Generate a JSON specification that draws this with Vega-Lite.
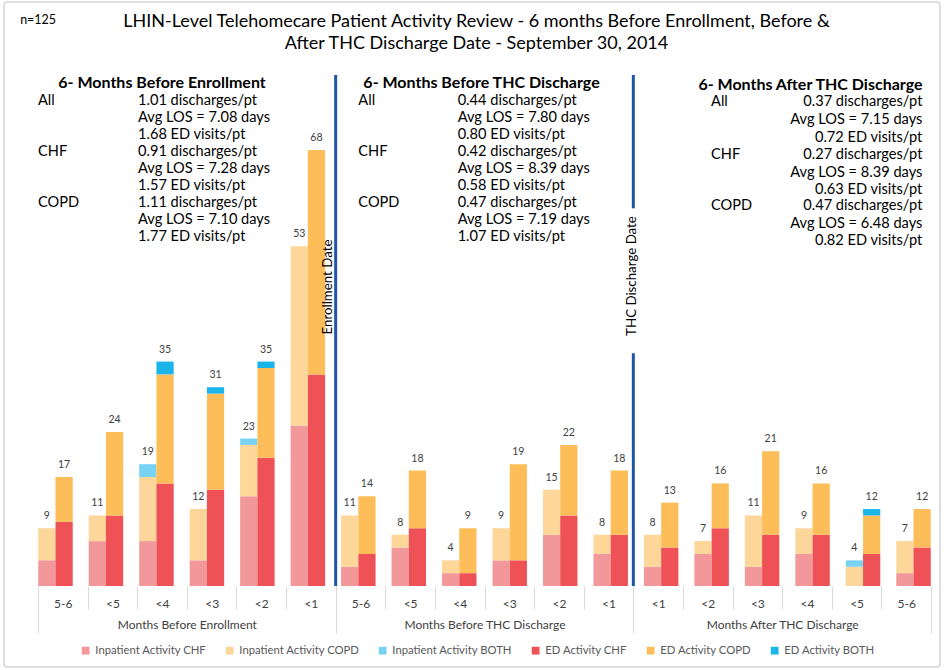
{
  "$schema": "https://vega.github.io/schema/vega-lite/v6.json",
  "width": 893,
  "height": 513,
  "autosize": {"type": "none"},
  "padding": {"left": 38, "top": 73, "right": 14, "bottom": 84},
  "background": "white",
  "config": {"view": {"stroke": null}, "font": "Lato"},
  "title": {
    "text": ["LHIN-Level Telehomecare Patient Activity Review - 6 months Before Enrollment, Before &", "After THC Discharge Date - September 30, 2014"],
    "font": "Lato", "fontSize": 18, "fontWeight": "normal", "color": "#000000",
    "lineHeight": 22, "frame": "group", "anchor": "middle", "offset": -52, "dx": -8
  },
  "datasets": {
    "bars": [
      {"k":"E1","t":"Inpatient","s":"Inpatient Activity CHF","o":1,"v":4},
      {"k":"E1","t":"Inpatient","s":"Inpatient Activity COPD","o":2,"v":5},
      {"k":"E1","t":"ED","s":"ED Activity CHF","o":1,"v":10},
      {"k":"E1","t":"ED","s":"ED Activity COPD","o":2,"v":7},
      {"k":"E2","t":"Inpatient","s":"Inpatient Activity CHF","o":1,"v":7},
      {"k":"E2","t":"Inpatient","s":"Inpatient Activity COPD","o":2,"v":4},
      {"k":"E2","t":"ED","s":"ED Activity CHF","o":1,"v":11},
      {"k":"E2","t":"ED","s":"ED Activity COPD","o":2,"v":13},
      {"k":"E3","t":"Inpatient","s":"Inpatient Activity CHF","o":1,"v":7},
      {"k":"E3","t":"Inpatient","s":"Inpatient Activity COPD","o":2,"v":10},
      {"k":"E3","t":"Inpatient","s":"Inpatient Activity BOTH","o":3,"v":2},
      {"k":"E3","t":"ED","s":"ED Activity CHF","o":1,"v":16},
      {"k":"E3","t":"ED","s":"ED Activity COPD","o":2,"v":17},
      {"k":"E3","t":"ED","s":"ED Activity BOTH","o":3,"v":2},
      {"k":"E4","t":"Inpatient","s":"Inpatient Activity CHF","o":1,"v":4},
      {"k":"E4","t":"Inpatient","s":"Inpatient Activity COPD","o":2,"v":8},
      {"k":"E4","t":"ED","s":"ED Activity CHF","o":1,"v":15},
      {"k":"E4","t":"ED","s":"ED Activity COPD","o":2,"v":15},
      {"k":"E4","t":"ED","s":"ED Activity BOTH","o":3,"v":1},
      {"k":"E5","t":"Inpatient","s":"Inpatient Activity CHF","o":1,"v":14},
      {"k":"E5","t":"Inpatient","s":"Inpatient Activity COPD","o":2,"v":8},
      {"k":"E5","t":"Inpatient","s":"Inpatient Activity BOTH","o":3,"v":1},
      {"k":"E5","t":"ED","s":"ED Activity CHF","o":1,"v":20},
      {"k":"E5","t":"ED","s":"ED Activity COPD","o":2,"v":14},
      {"k":"E5","t":"ED","s":"ED Activity BOTH","o":3,"v":1},
      {"k":"E6","t":"Inpatient","s":"Inpatient Activity CHF","o":1,"v":25},
      {"k":"E6","t":"Inpatient","s":"Inpatient Activity COPD","o":2,"v":28},
      {"k":"E6","t":"ED","s":"ED Activity CHF","o":1,"v":33},
      {"k":"E6","t":"ED","s":"ED Activity COPD","o":2,"v":35},
      {"k":"B1","t":"Inpatient","s":"Inpatient Activity CHF","o":1,"v":3},
      {"k":"B1","t":"Inpatient","s":"Inpatient Activity COPD","o":2,"v":8},
      {"k":"B1","t":"ED","s":"ED Activity CHF","o":1,"v":5},
      {"k":"B1","t":"ED","s":"ED Activity COPD","o":2,"v":9},
      {"k":"B2","t":"Inpatient","s":"Inpatient Activity CHF","o":1,"v":6},
      {"k":"B2","t":"Inpatient","s":"Inpatient Activity COPD","o":2,"v":2},
      {"k":"B2","t":"ED","s":"ED Activity CHF","o":1,"v":9},
      {"k":"B2","t":"ED","s":"ED Activity COPD","o":2,"v":9},
      {"k":"B3","t":"Inpatient","s":"Inpatient Activity CHF","o":1,"v":2},
      {"k":"B3","t":"Inpatient","s":"Inpatient Activity COPD","o":2,"v":2},
      {"k":"B3","t":"ED","s":"ED Activity CHF","o":1,"v":2},
      {"k":"B3","t":"ED","s":"ED Activity COPD","o":2,"v":7},
      {"k":"B4","t":"Inpatient","s":"Inpatient Activity CHF","o":1,"v":4},
      {"k":"B4","t":"Inpatient","s":"Inpatient Activity COPD","o":2,"v":5},
      {"k":"B4","t":"ED","s":"ED Activity CHF","o":1,"v":4},
      {"k":"B4","t":"ED","s":"ED Activity COPD","o":2,"v":15},
      {"k":"B5","t":"Inpatient","s":"Inpatient Activity CHF","o":1,"v":8},
      {"k":"B5","t":"Inpatient","s":"Inpatient Activity COPD","o":2,"v":7},
      {"k":"B5","t":"ED","s":"ED Activity CHF","o":1,"v":11},
      {"k":"B5","t":"ED","s":"ED Activity COPD","o":2,"v":11},
      {"k":"B6","t":"Inpatient","s":"Inpatient Activity CHF","o":1,"v":5},
      {"k":"B6","t":"Inpatient","s":"Inpatient Activity COPD","o":2,"v":3},
      {"k":"B6","t":"ED","s":"ED Activity CHF","o":1,"v":8},
      {"k":"B6","t":"ED","s":"ED Activity COPD","o":2,"v":10},
      {"k":"A1","t":"Inpatient","s":"Inpatient Activity CHF","o":1,"v":3},
      {"k":"A1","t":"Inpatient","s":"Inpatient Activity COPD","o":2,"v":5},
      {"k":"A1","t":"ED","s":"ED Activity CHF","o":1,"v":6},
      {"k":"A1","t":"ED","s":"ED Activity COPD","o":2,"v":7},
      {"k":"A2","t":"Inpatient","s":"Inpatient Activity CHF","o":1,"v":5},
      {"k":"A2","t":"Inpatient","s":"Inpatient Activity COPD","o":2,"v":2},
      {"k":"A2","t":"ED","s":"ED Activity CHF","o":1,"v":9},
      {"k":"A2","t":"ED","s":"ED Activity COPD","o":2,"v":7},
      {"k":"A3","t":"Inpatient","s":"Inpatient Activity CHF","o":1,"v":3},
      {"k":"A3","t":"Inpatient","s":"Inpatient Activity COPD","o":2,"v":8},
      {"k":"A3","t":"ED","s":"ED Activity CHF","o":1,"v":8},
      {"k":"A3","t":"ED","s":"ED Activity COPD","o":2,"v":13},
      {"k":"A4","t":"Inpatient","s":"Inpatient Activity CHF","o":1,"v":5},
      {"k":"A4","t":"Inpatient","s":"Inpatient Activity COPD","o":2,"v":4},
      {"k":"A4","t":"ED","s":"ED Activity CHF","o":1,"v":8},
      {"k":"A4","t":"ED","s":"ED Activity COPD","o":2,"v":8},
      {"k":"A5","t":"Inpatient","s":"Inpatient Activity COPD","o":2,"v":3},
      {"k":"A5","t":"Inpatient","s":"Inpatient Activity BOTH","o":3,"v":1},
      {"k":"A5","t":"ED","s":"ED Activity CHF","o":1,"v":5},
      {"k":"A5","t":"ED","s":"ED Activity COPD","o":2,"v":6},
      {"k":"A5","t":"ED","s":"ED Activity BOTH","o":3,"v":1},
      {"k":"A6","t":"Inpatient","s":"Inpatient Activity CHF","o":1,"v":2},
      {"k":"A6","t":"Inpatient","s":"Inpatient Activity COPD","o":2,"v":5},
      {"k":"A6","t":"ED","s":"ED Activity CHF","o":1,"v":6},
      {"k":"A6","t":"ED","s":"ED Activity COPD","o":2,"v":6}
    ]
  },
  "layer": [
    {
      "data": {"name": "bars"},
      "layer": [
        {
          "mark": {"type": "bar"},
          "encoding": {
            "x": {"field": "k", "type": "nominal", "axis": null,
              "scale": {"type": "band", "domain": ["E1","E2","E3","E4","E5","E6","B1","B2","B3","B4","B5","B6","A1","A2","A3","A4","A5","A6"], "paddingInner": 0.317, "paddingOuter": 0.005}},
            "xOffset": {"field": "t", "type": "nominal", "scale": {"domain": ["Inpatient", "ED"], "paddingInner": 0, "paddingOuter": 0}},
            "y": {"field": "v", "type": "quantitative", "stack": "zero",
              "scale": {"domain": [0, 80], "nice": false},
              "axis": {"values": [0,10,20,30,40,50,60,70,80], "grid": true, "gridColor": "#d9d9d9", "domain": false, "ticks": false, "labelPadding": 11, "labelFontSize": 12, "labelColor": "#404040", "labelFont": "Lato", "title": null}},
            "color": {"field": "s", "type": "nominal",
              "scale": {"domain": ["Inpatient Activity CHF", "Inpatient Activity COPD", "Inpatient Activity BOTH", "ED Activity CHF", "ED Activity COPD", "ED Activity BOTH"],
                        "range": ["#f2989b", "#fdd699", "#78d3f2", "#ee5257", "#fdbd58", "#1cb5ea"]},
              "legend": {"orient": "none", "legendX": 42, "legendY": 572, "direction": "horizontal", "title": null, "symbolType": "square", "symbolSize": 60, "symbolStrokeWidth": 0, "labelFont": "Lato", "labelFontSize": 11.3, "labelColor": "#595959", "columnPadding": 17}},
            "order": {"field": "o", "type": "quantitative"}
          }
        },
        {
          "transform": [{"aggregate": [{"op": "sum", "field": "v", "as": "total"}], "groupby": ["k", "t"]}],
          "mark": {"type": "text", "dy": -12, "fontSize": 10.5, "color": "#404040", "font": "Lato"},
          "encoding": {
            "x": {"field": "k", "type": "nominal", "axis": null,
              "scale": {"type": "band", "domain": ["E1","E2","E3","E4","E5","E6","B1","B2","B3","B4","B5","B6","A1","A2","A3","A4","A5","A6"], "paddingInner": 0.317, "paddingOuter": 0.005}},
            "xOffset": {"field": "t", "type": "nominal", "scale": {"domain": ["Inpatient", "ED"], "paddingInner": 0, "paddingOuter": 0}},
            "y": {"field": "total", "type": "quantitative", "scale": {"domain": [0, 80], "nice": false}, "axis": null},
            "text": {"field": "total", "type": "quantitative"}
          }
        }
      ]
    },
    {
      "resolve": {"axis": {"x": "independent"}},
      "layer": [
        {
          "data": {"values": [{"u": -0.685, "u2": 18.18, "y": -12.63, "y2": 91.07}]},
          "mark": {"type": "rect", "filled": false, "stroke": "#d4d4d4", "strokeWidth": 1.5, "cornerRadius": 3},
          "encoding": {
            "x": {"field": "u", "type": "quantitative", "scale": {"domain": [0, 18], "nice": false, "zero": false}, "axis": null},
            "x2": {"field": "u2"},
            "y": {"field": "y", "type": "quantitative", "scale": {"domain": [0, 80], "nice": false}, "axis": null},
            "y2": {"field": "y2"}
          }
        },
        {
          "data": {"values": [{"u": 6, "y": 0, "y2": 79.7}, {"u": 12, "y": 0, "y2": 36.3}, {"u": 12, "y": 58.9, "y2": 79.7}]},
          "mark": {"type": "rule", "color": "#1f56a3", "strokeWidth": 3},
          "encoding": {
            "x": {"field": "u", "type": "quantitative", "scale": {"domain": [0, 18], "nice": false, "zero": false},
              "axis": {"orient": "bottom", "title": null, "domain": false, "grid": false,
                "values": [0,0.5,1,1.5,2,2.5,3,3.5,4,4.5,5,5.5,6,6.5,7,7.5,8,8.5,9,9.5,10,10.5,11,11.5,12,12.5,13,13.5,14,14.5,15,15.5,16,16.5,17,17.5,18],
                "tickSize": 23, "tickColor": "#d9d9d9",
                "tickOpacity": {"condition": {"test": "datum.value % 1 != 0", "value": 0}, "value": 1},
                "labelExpr": "datum.value % 1 == 0.5 ? ['5-6','<5','<4','<3','<2','<1','5-6','<5','<4','<3','<2','<1','<1','<2','<3','<4','<5','5-6'][floor(datum.value)] : ''",
                "labelPadding": -6, "labelBaseline": "middle", "labelFont": "Lato", "labelFontSize": 12, "labelColor": "#404040",
                "labelOverlap": false, "labelFlush": false, "labelBound": false}},
            "y": {"field": "y", "type": "quantitative", "scale": {"domain": [0, 80], "nice": false}, "axis": null},
            "y2": {"field": "y2"}
          }
        },
        {
          "data": {"values": [{"text": "Enrollment Date", "u": 5.84, "v": 46.63}, {"text": "THC Discharge Date", "u": 11.97, "v": 48.34}]},
          "mark": {"type": "text", "angle": 270, "fontSize": 13.3, "color": "#000000", "align": "center", "baseline": "middle", "font": "Lato"},
          "encoding": {
            "x": {"field": "u", "type": "quantitative", "scale": {"domain": [0, 18], "nice": false, "zero": false},
              "axis": {"orient": "bottom", "title": null, "domain": false, "grid": false,
                "values": [0, 3, 6, 9, 12, 15, 18],
                "tickSize": 47, "tickColor": "#d9d9d9",
                "tickOpacity": {"condition": {"test": "datum.value % 6 != 0", "value": 0}, "value": 1},
                "labelExpr": "datum.value == 3 ? 'Months Before Enrollment' : datum.value == 9 ? 'Months Before THC Discharge' : datum.value == 15 ? 'Months After THC Discharge' : ''",
                "labelPadding": -9, "labelBaseline": "middle", "labelFont": "Lato", "labelFontSize": 12, "labelColor": "#404040",
                "labelOverlap": false, "labelFlush": false, "labelBound": false}},
            "y": {"field": "v", "type": "quantitative", "scale": {"domain": [0, 80], "nice": false}, "axis": null},
            "text": {"field": "text"}
          }
        },
        {
          "data": {"values": [{"text": "6- Months Before Enrollment", "u": 2.5, "v": 78.44}, {"text": "6- Months Before THC Discharge", "u": 8.94, "v": 78.4}]},
          "mark": {"type": "text", "fontSize": 16, "fontWeight": "bold", "color": "#000000", "align": "center", "baseline": "middle", "font": "Lato"},
          "encoding": {
            "x": {"field": "u", "type": "quantitative", "scale": {"domain": [0, 18], "nice": false, "zero": false}, "axis": null},
            "y": {"field": "v", "type": "quantitative", "scale": {"domain": [0, 80], "nice": false}, "axis": null},
            "text": {"field": "text"}
          }
        },
        {
          "data": {"values": [{"text": "6- Months After THC Discharge", "u": 17.83, "v": 78.13}]},
          "mark": {"type": "text", "fontSize": 16, "fontWeight": "bold", "color": "#000000", "align": "right", "baseline": "middle", "font": "Lato"},
          "encoding": {
            "x": {"field": "u", "type": "quantitative", "scale": {"domain": [0, 18], "nice": false, "zero": false}, "axis": null},
            "y": {"field": "v", "type": "quantitative", "scale": {"domain": [0, 80], "nice": false}, "axis": null},
            "text": {"field": "text"}
          }
        },
        {
          "data": {"values": [
            {"text": "All", "u": 0.0, "v": 75.63}, {"text": "CHF", "u": 0.0, "v": 67.68}, {"text": "COPD", "u": 0.0, "v": 59.73},
            {"text": "All", "u": 6.457, "v": 75.63}, {"text": "CHF", "u": 6.457, "v": 67.68}, {"text": "COPD", "u": 6.457, "v": 59.73},
            {"text": "All", "u": 13.566, "v": 75.52}, {"text": "CHF", "u": 13.566, "v": 67.21}, {"text": "COPD", "u": 13.566, "v": 59.31}
          ]},
          "mark": {"type": "text", "fontSize": 14.6, "color": "#000000", "align": "left", "baseline": "middle", "font": "Lato"},
          "encoding": {
            "x": {"field": "u", "type": "quantitative", "scale": {"domain": [0, 18], "nice": false, "zero": false}, "axis": null},
            "y": {"field": "v", "type": "quantitative", "scale": {"domain": [0, 80], "nice": false}, "axis": null},
            "text": {"field": "text"}
          }
        },
        {
          "data": {"values": [
            {"text": "1.01 discharges/pt", "u": 2.016, "v": 75.63},
            {"text": "Avg LOS = 7.08 days", "u": 2.016, "v": 72.98},
            {"text": "1.68 ED visits/pt", "u": 2.016, "v": 70.33},
            {"text": "0.91 discharges/pt", "u": 2.016, "v": 67.68},
            {"text": "Avg LOS = 7.28 days", "u": 2.016, "v": 65.03},
            {"text": "1.57 ED visits/pt", "u": 2.016, "v": 62.38},
            {"text": "1.11 discharges/pt", "u": 2.016, "v": 59.73},
            {"text": "Avg LOS = 7.10 days", "u": 2.016, "v": 57.08},
            {"text": "1.77 ED visits/pt", "u": 2.016, "v": 54.43},
            {"text": "0.44 discharges/pt", "u": 8.459, "v": 75.63},
            {"text": "Avg LOS = 7.80 days", "u": 8.459, "v": 72.98},
            {"text": "0.80 ED visits/pt", "u": 8.459, "v": 70.33},
            {"text": "0.42 discharges/pt", "u": 8.459, "v": 67.68},
            {"text": "Avg LOS = 8.39 days", "u": 8.459, "v": 65.03},
            {"text": "0.58 ED visits/pt", "u": 8.459, "v": 62.38},
            {"text": "0.47 discharges/pt", "u": 8.459, "v": 59.73},
            {"text": "Avg LOS = 7.19 days", "u": 8.459, "v": 57.08},
            {"text": "1.07 ED visits/pt", "u": 8.459, "v": 54.43}
          ]},
          "mark": {"type": "text", "fontSize": 14.6, "color": "#000000", "align": "left", "baseline": "middle", "font": "Lato"},
          "encoding": {
            "x": {"field": "u", "type": "quantitative", "scale": {"domain": [0, 18], "nice": false, "zero": false}, "axis": null},
            "y": {"field": "v", "type": "quantitative", "scale": {"domain": [0, 80], "nice": false}, "axis": null},
            "text": {"field": "text"}
          }
        },
        {
          "data": {"values": [
            {"text": "0.37 discharges/pt", "u": 17.826, "v": 75.52},
            {"text": "Avg LOS = 7.15 days", "u": 17.826, "v": 72.67},
            {"text": "0.72 ED visits/pt", "u": 17.826, "v": 69.91},
            {"text": "0.27 discharges/pt", "u": 17.826, "v": 67.21},
            {"text": "Avg LOS = 8.39 days", "u": 17.826, "v": 64.36},
            {"text": "0.63 ED visits/pt", "u": 17.826, "v": 61.75},
            {"text": "0.47 discharges/pt", "u": 17.826, "v": 59.31},
            {"text": "Avg LOS = 6.48 days", "u": 17.826, "v": 56.41},
            {"text": "0.82 ED visits/pt", "u": 17.826, "v": 53.8}
          ]},
          "mark": {"type": "text", "fontSize": 14.6, "color": "#000000", "align": "right", "baseline": "middle", "font": "Lato"},
          "encoding": {
            "x": {"field": "u", "type": "quantitative", "scale": {"domain": [0, 18], "nice": false, "zero": false}, "axis": null},
            "y": {"field": "v", "type": "quantitative", "scale": {"domain": [0, 80], "nice": false}, "axis": null},
            "text": {"field": "text"}
          }
        },
        {
          "data": {"values": [{"text": "n=125", "u": -0.36, "v": 88.3}]},
          "mark": {"type": "text", "fontSize": 12.5, "color": "#000000", "align": "left", "baseline": "middle", "font": "Lato"},
          "encoding": {
            "x": {"field": "u", "type": "quantitative", "scale": {"domain": [0, 18], "nice": false, "zero": false}, "axis": null},
            "y": {"field": "v", "type": "quantitative", "scale": {"domain": [0, 80], "nice": false}, "axis": null},
            "text": {"field": "text"}
          }
        }
      ]
    }
  ],
  "resolve": {"scale": {"x": "independent"}}
}
